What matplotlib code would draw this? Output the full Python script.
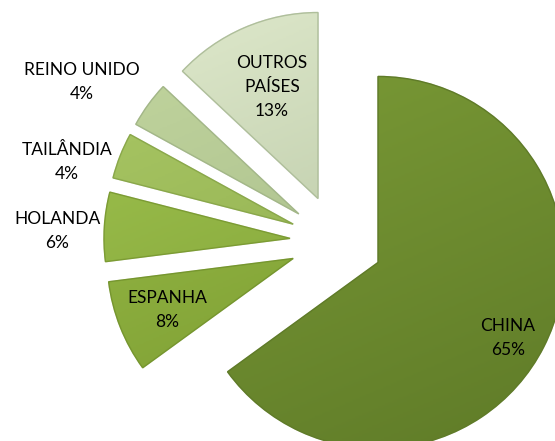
import matplotlib.pyplot as plt
import numpy as np
from matplotlib.colors import LinearSegmentedColormap

# dados do gráfico
paises = ["CHINA", "ESPANHA", "HOLANDA", "TAILÂNDIA", "REINO UNIDO", "OUTROS\nPAÍSES"]
percentuais = [65, 8, 6, 4, 4, 13]

# cores (claro -> escuro) para cada fatia
cores_claras = ["#7a9a36", "#9abd48", "#a0c450", "#abc966", "#c2d69e", "#dfe9cc"]
cores_escuras = ["#5f7b28", "#76962e", "#7c9c33", "#8aa84a", "#a3b788", "#afbf9b"]

# posições dos rótulos (pixels, a partir do topo)
pos_rotulos = [(508, 338), (167, 310), (57, 231), (67, 162), (82, 82), (272, 87)]

plt.rcParams['font.family'] = ['Lato', 'DejaVu Sans']

fig = plt.figure(figsize=(5.55, 4.41), dpi=100)
ax = fig.add_axes([0, 0, 1, 1])

centro = (336.5, 441 - 241.3)
raio = 186
afastamento = 46.6

wedges, _ = ax.pie(percentuais, radius=raio, center=centro, startangle=90,
                   counterclock=False, explode=[afastamento] * len(percentuais),
                   colors=cores_claras,
                   wedgeprops=dict(linewidth=1.0, edgecolor="none"),
                   shadow=dict(ox=0.015, oy=-0.015, shade=0.3, alpha=0.3))

ax.set_aspect('equal')
ax.axis('off')

# gradiente dentro de cada fatia (mais claro em cima à esquerda)
for w, c1, c2 in zip(wedges, cores_claras, cores_escuras):
    cmap = LinearSegmentedColormap.from_list("g", [c1, c2])
    x0, y0 = w.center
    r = w.r
    yy, xx = np.mgrid[0:1:256j, 0:1:256j]
    grad = 0.7 * yy + 0.3 * xx
    im = ax.imshow(grad, cmap=cmap, extent=(x0 - r, x0 + r, y0 - r, y0 + r),
                   origin='upper', aspect='auto', zorder=w.get_zorder() + 0.1)
    im.set_clip_path(w)
    w.set_facecolor("none")
    w.set_edgecolor(c2)
    w.set_zorder(w.get_zorder() + 0.2)

for nome, pct, (x, y) in zip(paises, percentuais, pos_rotulos):
    ax.text(x, 441 - y, f"{nome}\n{pct}%", ha='center', va='center',
            fontsize=12.5, color='black', linespacing=1.65)

ax.set_xlim(0, 555)
ax.set_ylim(0, 441)

fig.savefig("out.png", dpi=100)
